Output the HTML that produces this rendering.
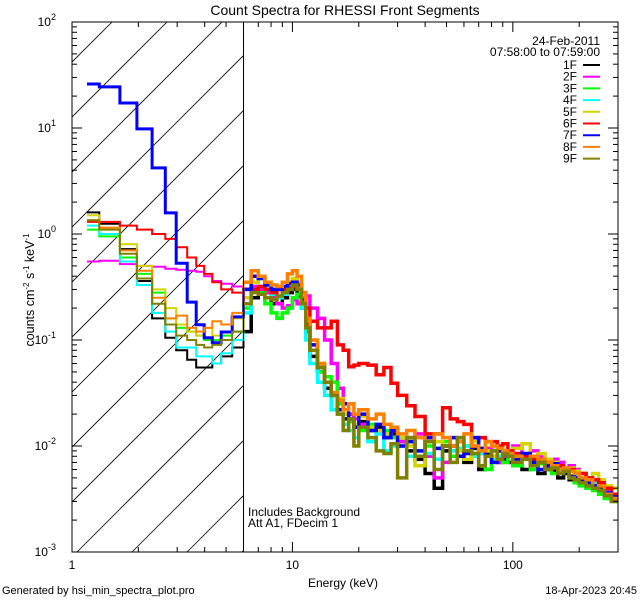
<!DOCTYPE html>
<html><head><meta charset="utf-8"><style>
html,body{margin:0;padding:0;background:#fff}
svg text{font-family:"Liberation Sans",sans-serif;fill:#000}
</style></head><body>
<svg id="chart" width="640" height="600" viewBox="0 0 640 600" xmlns="http://www.w3.org/2000/svg">
<defs><clipPath id="plotclip"><rect x="72" y="22" width="546" height="530"/></clipPath>
<clipPath id="hatchclip"><rect x="72" y="22" width="172" height="530"/></clipPath></defs>
<rect width="640" height="600" fill="#fff"/>
<g id="hatch" clip-path="url(#hatchclip)"></g>
<g id="series" clip-path="url(#plotclip)"></g>
<g id="axes"></g>
<text x="345" y="15" font-size="14" text-anchor="middle">Count Spectra for RHESSI Front Segments</text>
<text x="343" y="587" font-size="12" text-anchor="middle">Energy (keV)</text>
<text transform="translate(34,290) rotate(-90)" font-size="12.5" text-anchor="middle">counts cm<tspan dy="-5" font-size="8">-2</tspan><tspan dy="5"> s</tspan><tspan dy="-5" font-size="8">-1</tspan><tspan dy="5"> keV</tspan><tspan dy="-5" font-size="8">-1</tspan></text>
<text x="248" y="516" font-size="12">Includes Background</text>
<text x="248" y="527" font-size="12">Att A1, FDecim  1</text>
<text x="600" y="45" font-size="12" text-anchor="end">24-Feb-2011</text>
<text x="600" y="56" font-size="12" text-anchor="end">07:58:00 to 07:59:00</text>
<text x="2" y="594" font-size="11">Generated by hsi_min_spectra_plot.pro</text>
<text x="637" y="594" font-size="11" text-anchor="end">18-Apr-2023 20:45</text>
<g id="legend"></g>
</svg>
<script>
const edges=[1.17,1.33,1.65,1.97,2.31,2.65,2.97,3.33,3.66,3.98,4.33,4.75,5.33,6.0,
6.5,7,7.5,8,8.5,9,9.5,10,10.5,11,11.5,12,13,14,15,16,17,18,19,20,22,24,26,28,30,33,36,40,44,48,52,56,60,65,70,75,80,85,90,95,100,110,120,130,140,150,160,170,180,190,200,215,230,245,260,280,300];
const seriesNames=["1F","2F","3F","4F","5F","6F","7F","8F","9F"];
const seriesColors=["#000000","#ff00ff","#00ff00","#00ffff","#d4d400","#ff0000","#0000ff","#ff8000","#808000"];
const s1F=[1.6,1.25,0.72,0.36,0.16,0.105,0.08,0.065,0.055,0.055,0.06,0.07,0.085,
0.12,0.25,0.3,0.28,0.22,0.22,0.25,0.28,0.3,0.26,0.2,0.12,0.07,0.05,0.035,0.03,0.022,0.018,0.02,0.015,0.017,0.014,0.015,0.012,0.013,0.011,0.009,0.0075,0.0055,0.004,0.009,0.01,0.008,0.007,0.0095,0.006,0.0085,0.008,0.007,0.0075,0.007,0.0065,0.006,0.007,0.0055,0.006,0.0058,0.005,0.0055,0.0048,0.0045,0.005,0.004,0.0042,0.0038,0.0035,0.003];
const s2F=[0.55,0.56,0.52,0.5,0.49,0.47,0.46,0.45,0.44,0.4,0.36,0.34,0.32,
0.35,0.32,0.3,0.28,0.25,0.22,0.2,0.21,0.24,0.22,0.28,0.26,0.2,0.16,0.1,0.06,0.035,0.025,0.02,0.018,0.016,0.015,0.013,0.012,0.014,0.011,0.012,0.013,0.008,0.005,0.007,0.01,0.011,0.009,0.01,0.0085,0.0095,0.009,0.007,0.008,0.0085,0.01,0.0075,0.009,0.008,0.0065,0.0075,0.007,0.006,0.0065,0.006,0.0055,0.005,0.0048,0.004,0.0038,0.0035];
const s3F=[1.1,0.95,0.6,0.42,0.28,0.16,0.13,0.12,0.11,0.1,0.1,0.11,0.12,
0.2,0.3,0.28,0.22,0.18,0.16,0.18,0.2,0.25,0.27,0.25,0.15,0.08,0.05,0.045,0.04,0.025,0.02,0.017,0.015,0.014,0.016,0.013,0.014,0.012,0.01,0.011,0.009,0.01,0.0095,0.011,0.008,0.009,0.01,0.0085,0.0095,0.006,0.0075,0.009,0.007,0.0085,0.0065,0.0075,0.006,0.0068,0.007,0.0055,0.006,0.0058,0.005,0.0045,0.0042,0.004,0.0038,0.0035,0.0032,0.003];
const s4F=[1.2,1.0,0.55,0.33,0.18,0.12,0.085,0.085,0.07,0.07,0.06,0.075,0.1,
0.18,0.3,0.32,0.3,0.27,0.25,0.27,0.3,0.35,0.3,0.2,0.1,0.06,0.04,0.03,0.022,0.02,0.016,0.014,0.012,0.015,0.011,0.013,0.009,0.01,0.012,0.008,0.009,0.0085,0.0075,0.01,0.009,0.0095,0.01,0.008,0.0085,0.009,0.0075,0.008,0.0085,0.009,0.0075,0.008,0.007,0.0075,0.0065,0.007,0.0062,0.006,0.0058,0.0052,0.005,0.0048,0.0045,0.004,0.0036,0.0032];
const s5F=[1.5,1.1,0.8,0.5,0.3,0.2,0.14,0.12,0.11,0.13,0.11,0.12,0.16,
0.25,0.35,0.38,0.33,0.3,0.3,0.32,0.35,0.38,0.35,0.25,0.15,0.09,0.06,0.04,0.03,0.028,0.02,0.018,0.016,0.019,0.015,0.014,0.013,0.015,0.012,0.01,0.0065,0.012,0.011,0.01,0.012,0.009,0.0075,0.011,0.012,0.009,0.008,0.01,0.009,0.0085,0.0095,0.0105,0.008,0.0085,0.0075,0.007,0.0065,0.006,0.0062,0.0058,0.0055,0.005,0.0055,0.0048,0.0042,0.004];
const s6F=[1.3,1.3,1.2,1.1,1.0,0.9,0.75,0.6,0.5,0.42,0.35,0.3,0.28,
0.3,0.3,0.32,0.3,0.28,0.3,0.3,0.31,0.32,0.3,0.24,0.2,0.15,0.13,0.13,0.15,0.09,0.08,0.056,0.058,0.06,0.058,0.047,0.055,0.039,0.03,0.024,0.019,0.013,0.013,0.023,0.018,0.017,0.016,0.012,0.012,0.011,0.011,0.01,0.0105,0.009,0.0085,0.008,0.0075,0.007,0.007,0.0068,0.0065,0.006,0.006,0.0055,0.0055,0.005,0.0048,0.0045,0.004,0.0035];
const s7F=[26,24.4,17.2,9.8,4.2,1.58,0.53,0.228,0.139,0.105,0.094,0.119,0.165,
0.3,0.4,0.38,0.33,0.3,0.3,0.32,0.34,0.35,0.33,0.24,0.14,0.09,0.055,0.04,0.03,0.022,0.025,0.018,0.015,0.02,0.014,0.016,0.012,0.014,0.01,0.011,0.009,0.012,0.0095,0.01,0.012,0.008,0.0085,0.012,0.0095,0.008,0.007,0.009,0.0085,0.008,0.0075,0.0085,0.007,0.006,0.0065,0.0068,0.0055,0.006,0.0052,0.005,0.0048,0.0045,0.0042,0.004,0.0036,0.0033];
const s8F=[1.35,1.15,0.7,0.45,0.25,0.16,0.17,0.13,0.12,0.13,0.15,0.14,0.18,
0.35,0.45,0.4,0.35,0.33,0.32,0.35,0.42,0.45,0.4,0.28,0.16,0.1,0.06,0.04,0.032,0.027,0.022,0.025,0.02,0.022,0.018,0.02,0.016,0.015,0.013,0.014,0.012,0.011,0.013,0.012,0.01,0.011,0.013,0.01,0.009,0.011,0.01,0.0095,0.009,0.0085,0.008,0.0075,0.008,0.0075,0.007,0.0065,0.006,0.0062,0.0058,0.0055,0.005,0.0048,0.004,0.0042,0.0035,0.0032];
const s9F=[1.35,1.1,0.65,0.38,0.22,0.14,0.11,0.1,0.09,0.085,0.09,0.1,0.12,
0.22,0.28,0.27,0.25,0.24,0.26,0.28,0.3,0.33,0.3,0.22,0.13,0.08,0.055,0.04,0.03,0.02,0.014,0.018,0.01,0.015,0.012,0.009,0.0085,0.0105,0.005,0.012,0.008,0.011,0.006,0.01,0.007,0.012,0.009,0.0085,0.0065,0.008,0.009,0.0075,0.0085,0.008,0.007,0.0075,0.0065,0.007,0.006,0.0062,0.0055,0.0058,0.005,0.0048,0.0045,0.0042,0.004,0.0038,0.0034,0.003];
const seriesValues=[s1F,s2F,s3F,s4F,s5F,s6F,s7F,s8F,s9F];
const xTicks=[1,10,100];const xTickLabels=["1","10","100"];
const yTickExps=[-3,-2,-1,0,1,2];

const NS="http://www.w3.org/2000/svg";
const X0=72,X1=618,Y0=22,Y1=552;
const xmin=0,xmax=Math.log10(300),ymin=-3,ymax=2;
const xs=e=>X0+(Math.log10(e)-xmin)/(xmax-xmin)*(X1-X0);
const ys=v=>Y1-(Math.log10(v)-ymin)/(ymax-ymin)*(Y1-Y0);
function mk(tag,attrs,parent){const el=document.createElementNS(NS,tag);for(const k in attrs)el.setAttribute(k,attrs[k]);parent.appendChild(el);return el;}
const hatch=document.getElementById('hatch');
for(let c=-600;c<400;c+=55){
  const l=mk('line',{x1:X0+c,y1:Y1,x2:X0+c+540,y2:Y1-540,stroke:'#000','stroke-width':0.8},hatch);
  
  
}
const vl=mk('line',{x1:xs(6),y1:Y0,x2:xs(6),y2:Y1,stroke:'#000','stroke-width':1},hatch.parentNode);


const sg=document.getElementById('series');
function stepPath(vals,i0,i1){let d='';
  for(let i=i0;i<i1;i++){const xa=xs(edges[i]),xb=xs(edges[i+1]),y=ys(vals[i]);
    d+=(i===i0?'M':'L')+xa.toFixed(1)+','+y.toFixed(1)+'L'+xb.toFixed(1)+','+y.toFixed(1);}
  return d;}
const split=edges.indexOf(6.0);
seriesValues.forEach((vals,si)=>{
  const p1=mk('path',{d:stepPath(vals,0,split+1),fill:'none',stroke:seriesColors[si],'stroke-width':si===6?3:2},sg);
  
  
  const p2=mk('path',{d:stepPath(vals,split,vals.length),fill:'none',stroke:seriesColors[si],'stroke-width':3.5},sg);
  
  
});
const ax=document.getElementById('axes');
const frame=mk('rect',{x:X0,y:Y0,width:X1-X0,height:Y1-Y0,fill:'none',stroke:'#000','stroke-width':1},ax);


for(let dec=0;dec<3;dec++){for(let m=1;m<10;m++){const e=m*Math.pow(10,dec);if(e>300)break;const x=xs(e);const L=m===1?10:5;
  mk('line',{x1:x,y1:Y1,x2:x,y2:Y1-L,stroke:'#000'},ax);mk('line',{x1:x,y1:Y0,x2:x,y2:Y0+L,stroke:'#000'},ax);}}
xTicks.forEach((t,i)=>{const tx=mk('text',{x:xs(t),y:Y1+17,'font-size':12,'text-anchor':'middle'},ax);tx.textContent=xTickLabels[i];
  
  });
for(let ex=-3;ex<2;ex++){for(let m=1;m<10;m++){const v=m*Math.pow(10,ex);const y=ys(v);const L=m===1?10:5;
  mk('line',{x1:X0,y1:y,x2:X0+L,y2:y,stroke:'#000'},ax);mk('line',{x1:X1,y1:y,x2:X1-L,y2:y,stroke:'#000'},ax);}}
mk('line',{x1:X0,y1:Y0,x2:X0+10,y2:Y0,stroke:'#000'},ax);
yTickExps.forEach(ex=>{const y=ys(Math.pow(10,ex));const t=mk('text',{x:X0-16,y:y+4,'font-size':12,'text-anchor':'end'},ax);
  t.textContent='10';const s=mk('tspan',{dy:-6,'font-size':9},t);s.textContent=String(ex);
  
  });
const lg=document.getElementById('legend');
seriesNames.forEach((n,i)=>{const y=65+i*11.7;
  const g=mk('g',{},lg);
  
  
  const t=mk('text',{x:577,y:y+4,'font-size':12,'text-anchor':'end'},g);t.textContent=n;
  mk('line',{x1:583,y1:y,x2:600,y2:y,stroke:seriesColors[i],'stroke-width':2},g);});
</script>
</body></html>
